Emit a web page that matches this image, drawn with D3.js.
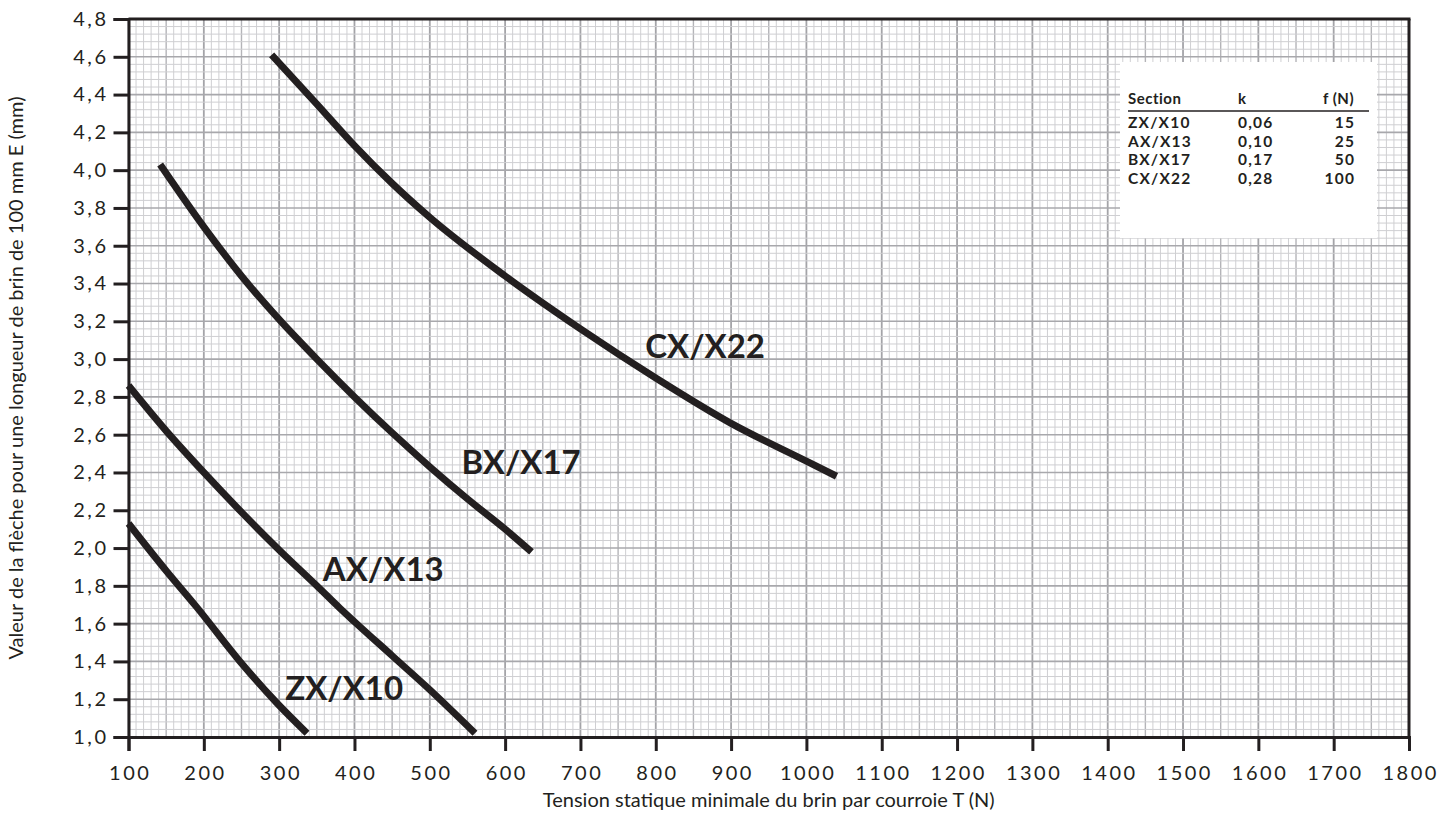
<!DOCTYPE html>
<html>
<head>
<meta charset="utf-8">
<script src="https://cdn.jsdelivr.net/npm/d3@7"></script>
<style>
  html, body { margin: 0; padding: 0; background: #fff; }
  svg { display: block; }
  text { font-family: Lato, "Noto Sans", sans-serif; fill: #231f20; }
</style>
</head>
<body>
<svg id="chart" width="1454" height="816"></svg>
<script>
// Tension T (N) and deflection E (mm per 100 mm of span) for each belt section
const zxT = [100, 150, 190, 248, 297, 337];
const zxE = [2.13, 1.88, 1.69, 1.40, 1.18, 1.02];

const axT = [100, 150, 200, 250, 300, 350, 381, 400, 450, 500, 560];
const axE = [2.86, 2.62, 2.40, 2.19, 1.99, 1.80, 1.68, 1.61, 1.43, 1.25, 1.02];

const bxT = [142, 200, 250, 300, 350, 400, 450, 500, 550, 600, 635];
const bxE = [4.03, 3.70, 3.44, 3.21, 3.00, 2.80, 2.61, 2.43, 2.26, 2.10, 1.98];

const cxT = [290, 350, 400, 450, 500, 600, 700, 800, 900, 1000, 1040];
const cxE = [4.61, 4.35, 4.13, 3.93, 3.75, 3.44, 3.16, 2.90, 2.66, 2.46, 2.38];

const seriesNames = ["ZX/X10", "AX/X13", "BX/X17", "CX/X22"];
const seriesT = [zxT, axT, bxT, cxT];
const seriesE = [zxE, axE, bxE, cxE];
// curve label anchors (T, E) – left edge of text, vertical centre
const labelT = [308, 358, 542, 786];
const labelE = [1.26, 1.89, 2.455, 3.07];

// table of sections
const tableHead = ["Section", "k", "f (N)"];
const tableSection = ["ZX/X10", "AX/X13", "BX/X17", "CX/X22"];
const tableK = ["0,06", "0,10", "0,17", "0,28"];
const tableF = ["15", "25", "50", "100"];

const xTicks = d3.range(100, 1801, 100);
const yTicks = d3.range(10, 49, 2).map(v => v / 10);

const svg = d3.select("#chart");
const pL = 128.5, pR = 1409, pT = 19, pB = 737;
const x = d3.scaleLinear().domain([100, 1800]).range([pL, pR]);
const y = d3.scaleLinear().domain([1, 4.8]).range([pB, pT]);

// millimetre paper grid
const grid = svg.append("g");
const xMinor = d3.range(100, 1801, 10);
const yMinor = d3.range(0, 96).map(i => 1 + i * 0.04);
grid.selectAll("line.vx").data(xMinor).join("line")
  .attr("x1", d => x(d)).attr("x2", d => x(d))
  .attr("y1", pT).attr("y2", pB)
  .attr("stroke", d => d % 100 === 0 ? "#a4a4a8" : (d % 50 === 0 ? "#b4b4b8" : "#cfcfd2"))
  .attr("stroke-width", d => d % 100 === 0 ? 1.8 : (d % 50 === 0 ? 1.4 : 1));
grid.selectAll("line.hy").data(yMinor).join("line")
  .attr("y1", d => y(d)).attr("y2", d => y(d))
  .attr("x1", pL).attr("x2", pR)
  .attr("stroke", (d, i) => i % 5 === 0 ? "#a8a8ac" : "#cfcfd2")
  .attr("stroke-width", (d, i) => i % 5 === 0 ? 1.6 : 1);

// table panel
const tb = svg.append("g");
tb.append("rect").attr("x", 1120).attr("y", 62).attr("width", 257).attr("height", 176).attr("fill", "#fff");
const colX = [1128, 1238, 1354];
tb.selectAll("text.h").data(tableHead).join("text")
  .attr("x", (d, i) => colX[i]).attr("y", 104)
  .attr("text-anchor", (d, i) => i === 2 ? "end" : "start")
  .attr("font-size", 15).attr("font-weight", 700).attr("letter-spacing", 0.5).text(d => d);
tb.append("line").attr("x1", 1128).attr("x2", 1369).attr("y1", 111).attr("y2", 111)
  .attr("stroke", "#231f20").attr("stroke-width", 1.5);
tableSection.forEach((s, i) => {
  const yy = 128 + i * 18.5;
  const row = tb.append("g").attr("font-size", 15.5).attr("font-weight", 700).attr("letter-spacing", 1.2);
  row.append("text").attr("x", colX[0]).attr("y", yy).text(s);
  row.append("text").attr("x", colX[1]).attr("y", yy).text(tableK[i]);
  row.append("text").attr("x", colX[2] + 1.2).attr("y", yy).attr("text-anchor", "end").text(tableF[i]);
});

// frame
svg.append("line").attr("x1", pL).attr("x2", pR + 1.5).attr("y1", pT).attr("y2", pT)
  .attr("stroke", "#231f20").attr("stroke-width", 3);
svg.append("line").attr("x1", pR).attr("x2", pR).attr("y1", pT).attr("y2", pB)
  .attr("stroke", "#231f20").attr("stroke-width", 3);

// axes
const xAxis = svg.append("g").attr("transform", `translate(0,${pB})`)
  .call(d3.axisBottom(x).tickValues(xTicks).tickSize(14).tickPadding(15).tickFormat(d3.format("d")));
const yAxis = svg.append("g").attr("transform", `translate(${pL},0)`)
  .call(d3.axisLeft(y).tickValues(yTicks).tickSize(15).tickPadding(5).tickFormat(d => d.toFixed(1).replace(".", ",")));
[xAxis, yAxis].forEach(a => {
  a.select(".domain").attr("stroke", "#231f20").attr("stroke-width", 3);
  a.selectAll(".tick line").attr("stroke", "#231f20").attr("stroke-width", 3);
  a.selectAll(".tick text").attr("fill", "#231f20").attr("font-family", "Lato, sans-serif")
    .attr("font-size", 20).attr("letter-spacing", 2.5);
});
xAxis.selectAll(".tick text").attr("dy", "0.71em").attr("dx", 1.2);

// curves
const line = d3.line().x(d => x(d[0])).y(d => y(d[1])).curve(d3.curveMonotoneX);
seriesT.forEach((ts, i) => {
  svg.append("path").datum(ts.map((t, j) => [t, seriesE[i][j]]))
    .attr("d", line).attr("fill", "none").attr("stroke", "#231f20")
    .attr("stroke-width", 7).attr("stroke-linecap", "butt");
  svg.append("text").attr("x", x(labelT[i])).attr("y", y(labelE[i])).attr("dy", "0.36em")
    .attr("font-size", 33).attr("font-weight", 700).text(seriesNames[i]);
});

// axis titles
svg.append("text").attr("x", (pL + pR) / 2).attr("y", 807).attr("text-anchor", "middle")
  .attr("font-size", 20).text("Tension statique minimale du brin par courroie T (N)");
svg.append("text").attr("transform", `translate(23,${(pT + pB) / 2}) rotate(-90)`)
  .attr("text-anchor", "middle").attr("font-size", 20)
  .text("Valeur de la flèche pour une longueur de brin de 100 mm E (mm)");
</script>
</body>
</html>
